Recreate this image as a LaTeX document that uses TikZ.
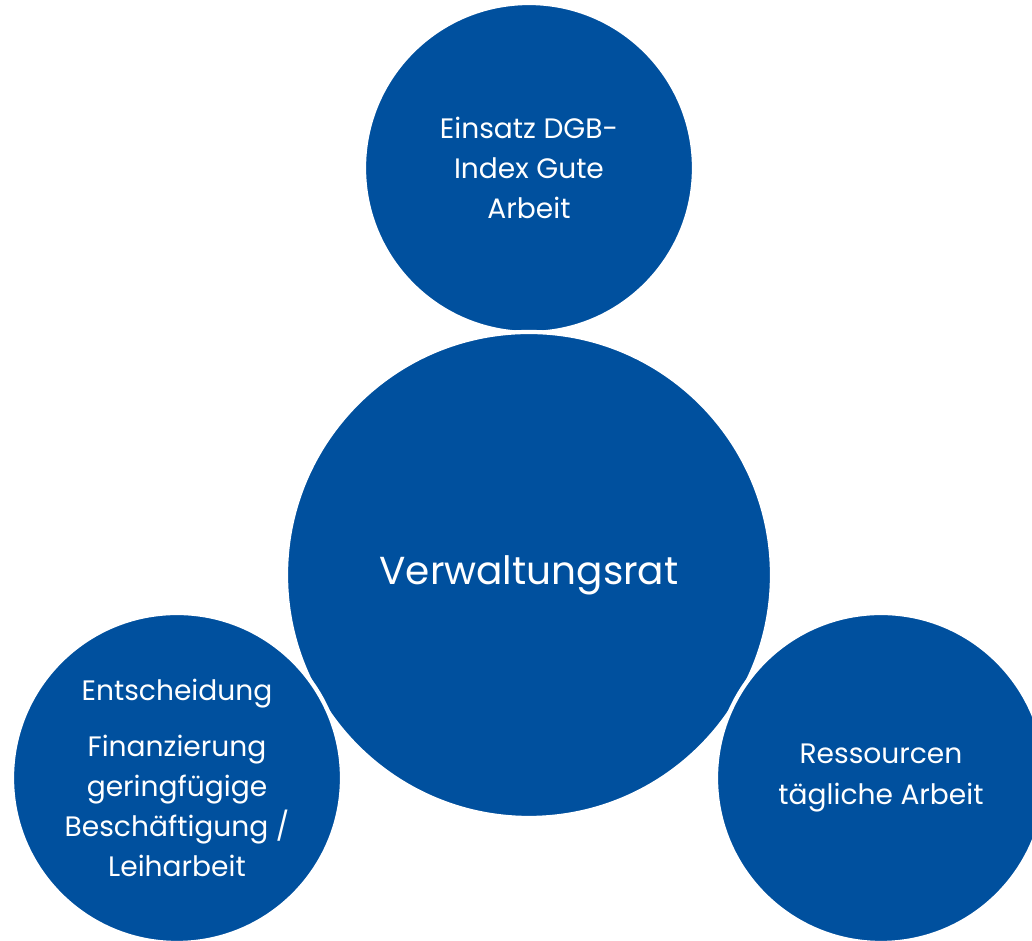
\documentclass[tikz,border=0pt]{standalone}
\usepackage{fontspec}
\setmainfont{Poppins}
\definecolor{dgbblue}{RGB}{0,80,158}

\begin{document}
\begin{tikzpicture}[
    every node/.style={circle, fill=dgbblue, draw=white, line width=1.2pt, text=white, align=center, inner sep=0pt},
    small/.style={minimum size=3.3cm, font=\fontsize{8}{11.4}\selectfont},
    big/.style={minimum size=4.86cm, font=\fontsize{11.1}{14}\selectfont}
]
\clip (0,0) rectangle (10.32,9.41);
\node[small] (index) at (5.29,7.73) {Einsatz DGB-\\Index Gute\\Arbeit};
\node[big] (rat) at (5.29,3.66) {Verwaltungsrat};
\node[small] (entscheidung) at (1.77,1.63) {Entscheidung\\[4.5pt]Finanzierung\\geringfügige\\Beschäftigung /\\Leiharbeit};
\node[small] (ressourcen) at (8.81,1.63) {Ressourcen\\tägliche Arbeit};
\end{tikzpicture}
\end{document}
